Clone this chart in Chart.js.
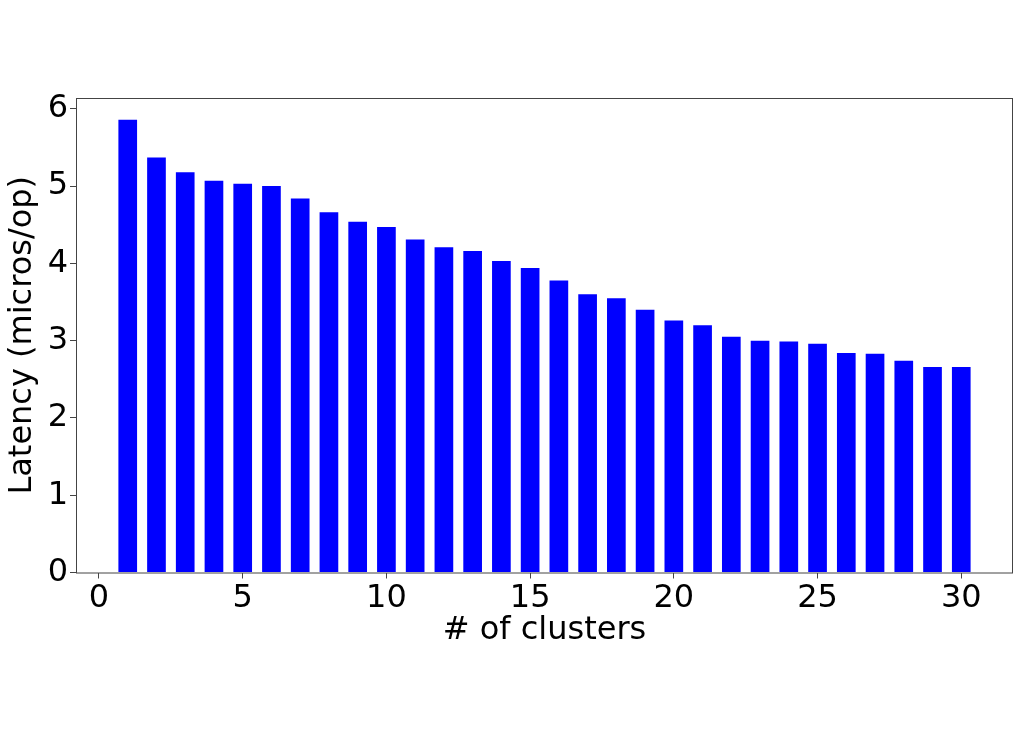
<!DOCTYPE html>
<html>
<head>
<meta charset="utf-8">
<script src="https://cdn.jsdelivr.net/npm/chart.js@4/dist/chart.umd.min.js"></script>
<style>
  html, body { margin: 0; padding: 0; background: #fff; }
  #wrap { width: 1022px; height: 747px; }
</style>
</head>
<body>
<div id="wrap"><canvas id="latency" width="1022" height="747"></canvas></div>
<script>
// values
var clusters = [1, 2, 3, 4, 5, 6, 7, 8, 9, 10, 11, 12, 13, 14, 15,
                16, 17, 18, 19, 20, 21, 22, 23, 24, 25, 26, 27, 28, 29, 30]
var latency = [5.86, 5.37, 5.18, 5.07, 5.03, 5.00, 4.84, 4.66, 4.54, 4.47,
               4.31, 4.21, 4.16, 4.03, 3.94, 3.78, 3.60, 3.55, 3.40, 3.26,
               3.20, 3.05, 3.00, 2.99, 2.96, 2.84, 2.83, 2.74, 2.66, 2.66]
var xTicks = [0, 5, 10, 15, 20, 25, 30]
var yTicks = [0, 1, 2, 3, 4, 5, 6]

var font = "'DejaVu Sans', sans-serif"
var spine = '#444'

// matplotlib style box round the plot
const frameBox = {
  id: 'frameBox',
  afterDraw(chart) {
    let a = chart.chartArea
    let ctx = chart.ctx
    ctx.save()
    ctx.strokeStyle = spine
    ctx.lineWidth = 1
    ctx.strokeRect(a.left + 0.5, a.top + 0.5, a.right - a.left - 1, a.bottom - a.top)
    ctx.restore()
  }
}

function keepTicks(list) {
  return function (scale) {
    scale.ticks = list.map(v => ({ value: v }))
  }
}

let points = clusters.map((c, i) => ({ x: c, y: latency[i] }))

new Chart(document.getElementById('latency'), {
  type: 'bar',
  data: {
    datasets: [{
      label: 'latency',
      data: points,
      backgroundColor: '#0000ff',
      borderWidth: 0,
      categoryPercentage: 1,
      barPercentage: 0.65
    }]
  },
  options: {
    responsive: false,
    animation: false,
    layout: { padding: { top: 98, right: 9, bottom: 97, left: 0 } },
    plugins: {
      legend: { display: false },
      tooltip: { enabled: false }
    },
    scales: {
      x: {
        type: 'linear',
        offset: false,
        min: -0.8,
        max: 31.8,
        afterBuildTicks: keepTicks(xTicks),
        afterFit: (s) => { s.height = 77.5 },
        grid: { display: true, offset: false, drawOnChartArea: false, drawTicks: true, tickLength: 6, color: spine },
        border: { display: false },
        ticks: { color: '#000', font: { family: font, size: 32 }, padding: 1, maxRotation: 0 },
        title: { display: true, text: '# of clusters', color: '#000', font: { family: font, size: 32 }, padding: { top: 0, bottom: 0 } }
      },
      y: {
        min: 0,
        max: 6.14,
        afterBuildTicks: keepTicks(yTicks),
        afterFit: (s) => { s.width = 76 },
        grid: { display: true, drawOnChartArea: false, drawTicks: true, tickLength: 6, color: spine },
        border: { display: false },
        ticks: { color: '#000', font: { family: font, size: 32 }, padding: 2 },
        title: { display: true, text: 'Latency (micros/op)', color: '#000', font: { family: font, size: 32 }, padding: { top: 3, bottom: 0 } }
      }
    }
  },
  plugins: [frameBox]
})
</script>
</body>
</html>
